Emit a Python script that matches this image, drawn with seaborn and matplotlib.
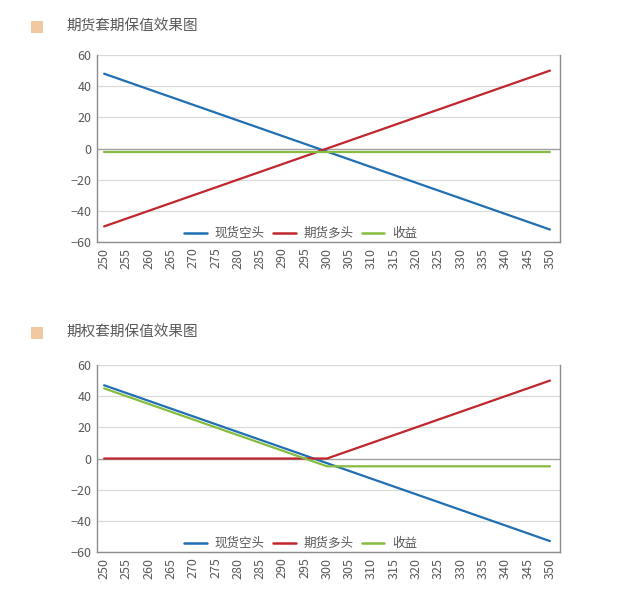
import matplotlib
matplotlib.use("Agg")
import matplotlib.pyplot as plt
import matplotlib.patches as mpatches
import seaborn as sns
import pandas as pd

# 横轴: 标的价格
prices = [250, 255, 260, 265, 270, 275, 280, 285, 290, 295, 300,
          305, 310, 315, 320, 325, 330, 335, 340, 345, 350]

# 期货套期保值
spot_short_1 = [48, 43, 38, 33, 28, 23, 18, 13, 8, 3, -2,
                -7, -12, -17, -22, -27, -32, -37, -42, -47, -52]
fut_long_1 = [-50, -45, -40, -35, -30, -25, -20, -15, -10, -5, 0,
              5, 10, 15, 20, 25, 30, 35, 40, 45, 50]
profit_1 = [-2] * 21

# 期权套期保值
spot_short_2 = [47, 42, 37, 32, 27, 22, 17, 12, 7, 2, -3,
                -8, -13, -18, -23, -28, -33, -38, -43, -48, -53]
opt_long_2 = [0, 0, 0, 0, 0, 0, 0, 0, 0, 0, 0,
              5, 10, 15, 20, 25, 30, 35, 40, 45, 50]
profit_2 = [45, 40, 35, 30, 25, 20, 15, 10, 5, 0, -5,
            -5, -5, -5, -5, -5, -5, -5, -5, -5, -5]

titles = ["期货套期保值效果图", "期权套期保值效果图"]
labels = ["现货空头", "期货多头", "收益"]
colors = ["#1f6fb2", "#c0262e", "#86bc3f"]
yticks = [-60, -40, -20, 0, 20, 40, 60]

sns.set_theme(style="white")
plt.rcParams['font.family'] = ['Noto Sans CJK SC', 'DejaVu Sans']

fig = plt.figure(figsize=(6.25, 5.98), dpi=100)
text_col = "#595959"


def draw_panel(ax, series, title, title_y):
    df = pd.DataFrame({"price": prices})
    for name, vals in zip(labels, series):
        df[name] = vals
    long_df = df.melt(id_vars="price", var_name="series", value_name="value")
    # x 用类别位置, 与原图一致
    long_df["pos"] = long_df["price"].map({p: i for i, p in enumerate(prices)})
    sns.lineplot(data=long_df, x="pos", y="value", hue="series",
                 palette=dict(zip(labels, colors)), linewidth=1.6,
                 ax=ax, legend=False)
    ax.set_xlim(-0.32, len(prices) - 0.55)
    ax.set_ylim(-60, 60)
    ax.set_yticks(yticks)
    ax.set_xticks(range(len(prices)))
    ax.set_xticklabels([str(p) for p in prices], rotation=90)
    ax.tick_params(axis="both", labelsize=9, colors=text_col, length=0, pad=4)
    ax.tick_params(axis="y", pad=4)
    for t in yticks:
        if t == 0:
            ax.axhline(t, color="#a0a0a0", lw=1.0, zorder=1)
        else:
            ax.axhline(t, color="#d9d9d9", lw=0.9, zorder=0)
    for s in ["left", "right", "bottom"]:
        ax.spines[s].set_color("#8c8c8c")
        ax.spines[s].set_linewidth(1.0)
    ax.spines["top"].set_visible(False)
    ax.set_xlabel("")
    ax.set_ylabel("")
    handles = [plt.Line2D([], [], color=c, lw=1.8) for c in colors]
    leg = ax.legend(handles, labels, loc="lower center", ncol=3, frameon=False,
                    fontsize=9, handlelength=1.8, columnspacing=0.7,
                    handletextpad=0.6, bbox_to_anchor=(0.44, -0.05))
    for t in leg.get_texts():
        t.set_color(text_col)
    fig.patches.append(mpatches.Rectangle((31 / 625, title_y - 0.011), 12 / 625, 12 / 598,
                                          transform=fig.transFigure,
                                          color="#f0c9a0", lw=0))
    fig.text(66 / 625, title_y, title, fontsize=10.5, color=text_col, va="center")


ax1 = fig.add_axes([97 / 625, 1 - 242 / 598, 463 / 625, 187 / 598])
draw_panel(ax1, [spot_short_1, fut_long_1, profit_1], titles[0], 1 - 26 / 598)

ax2 = fig.add_axes([97 / 625, 1 - 552 / 598, 463 / 625, 187 / 598])
draw_panel(ax2, [spot_short_2, opt_long_2, profit_2], titles[1], 1 - 332 / 598)

fig.savefig("out.png", dpi=100)
